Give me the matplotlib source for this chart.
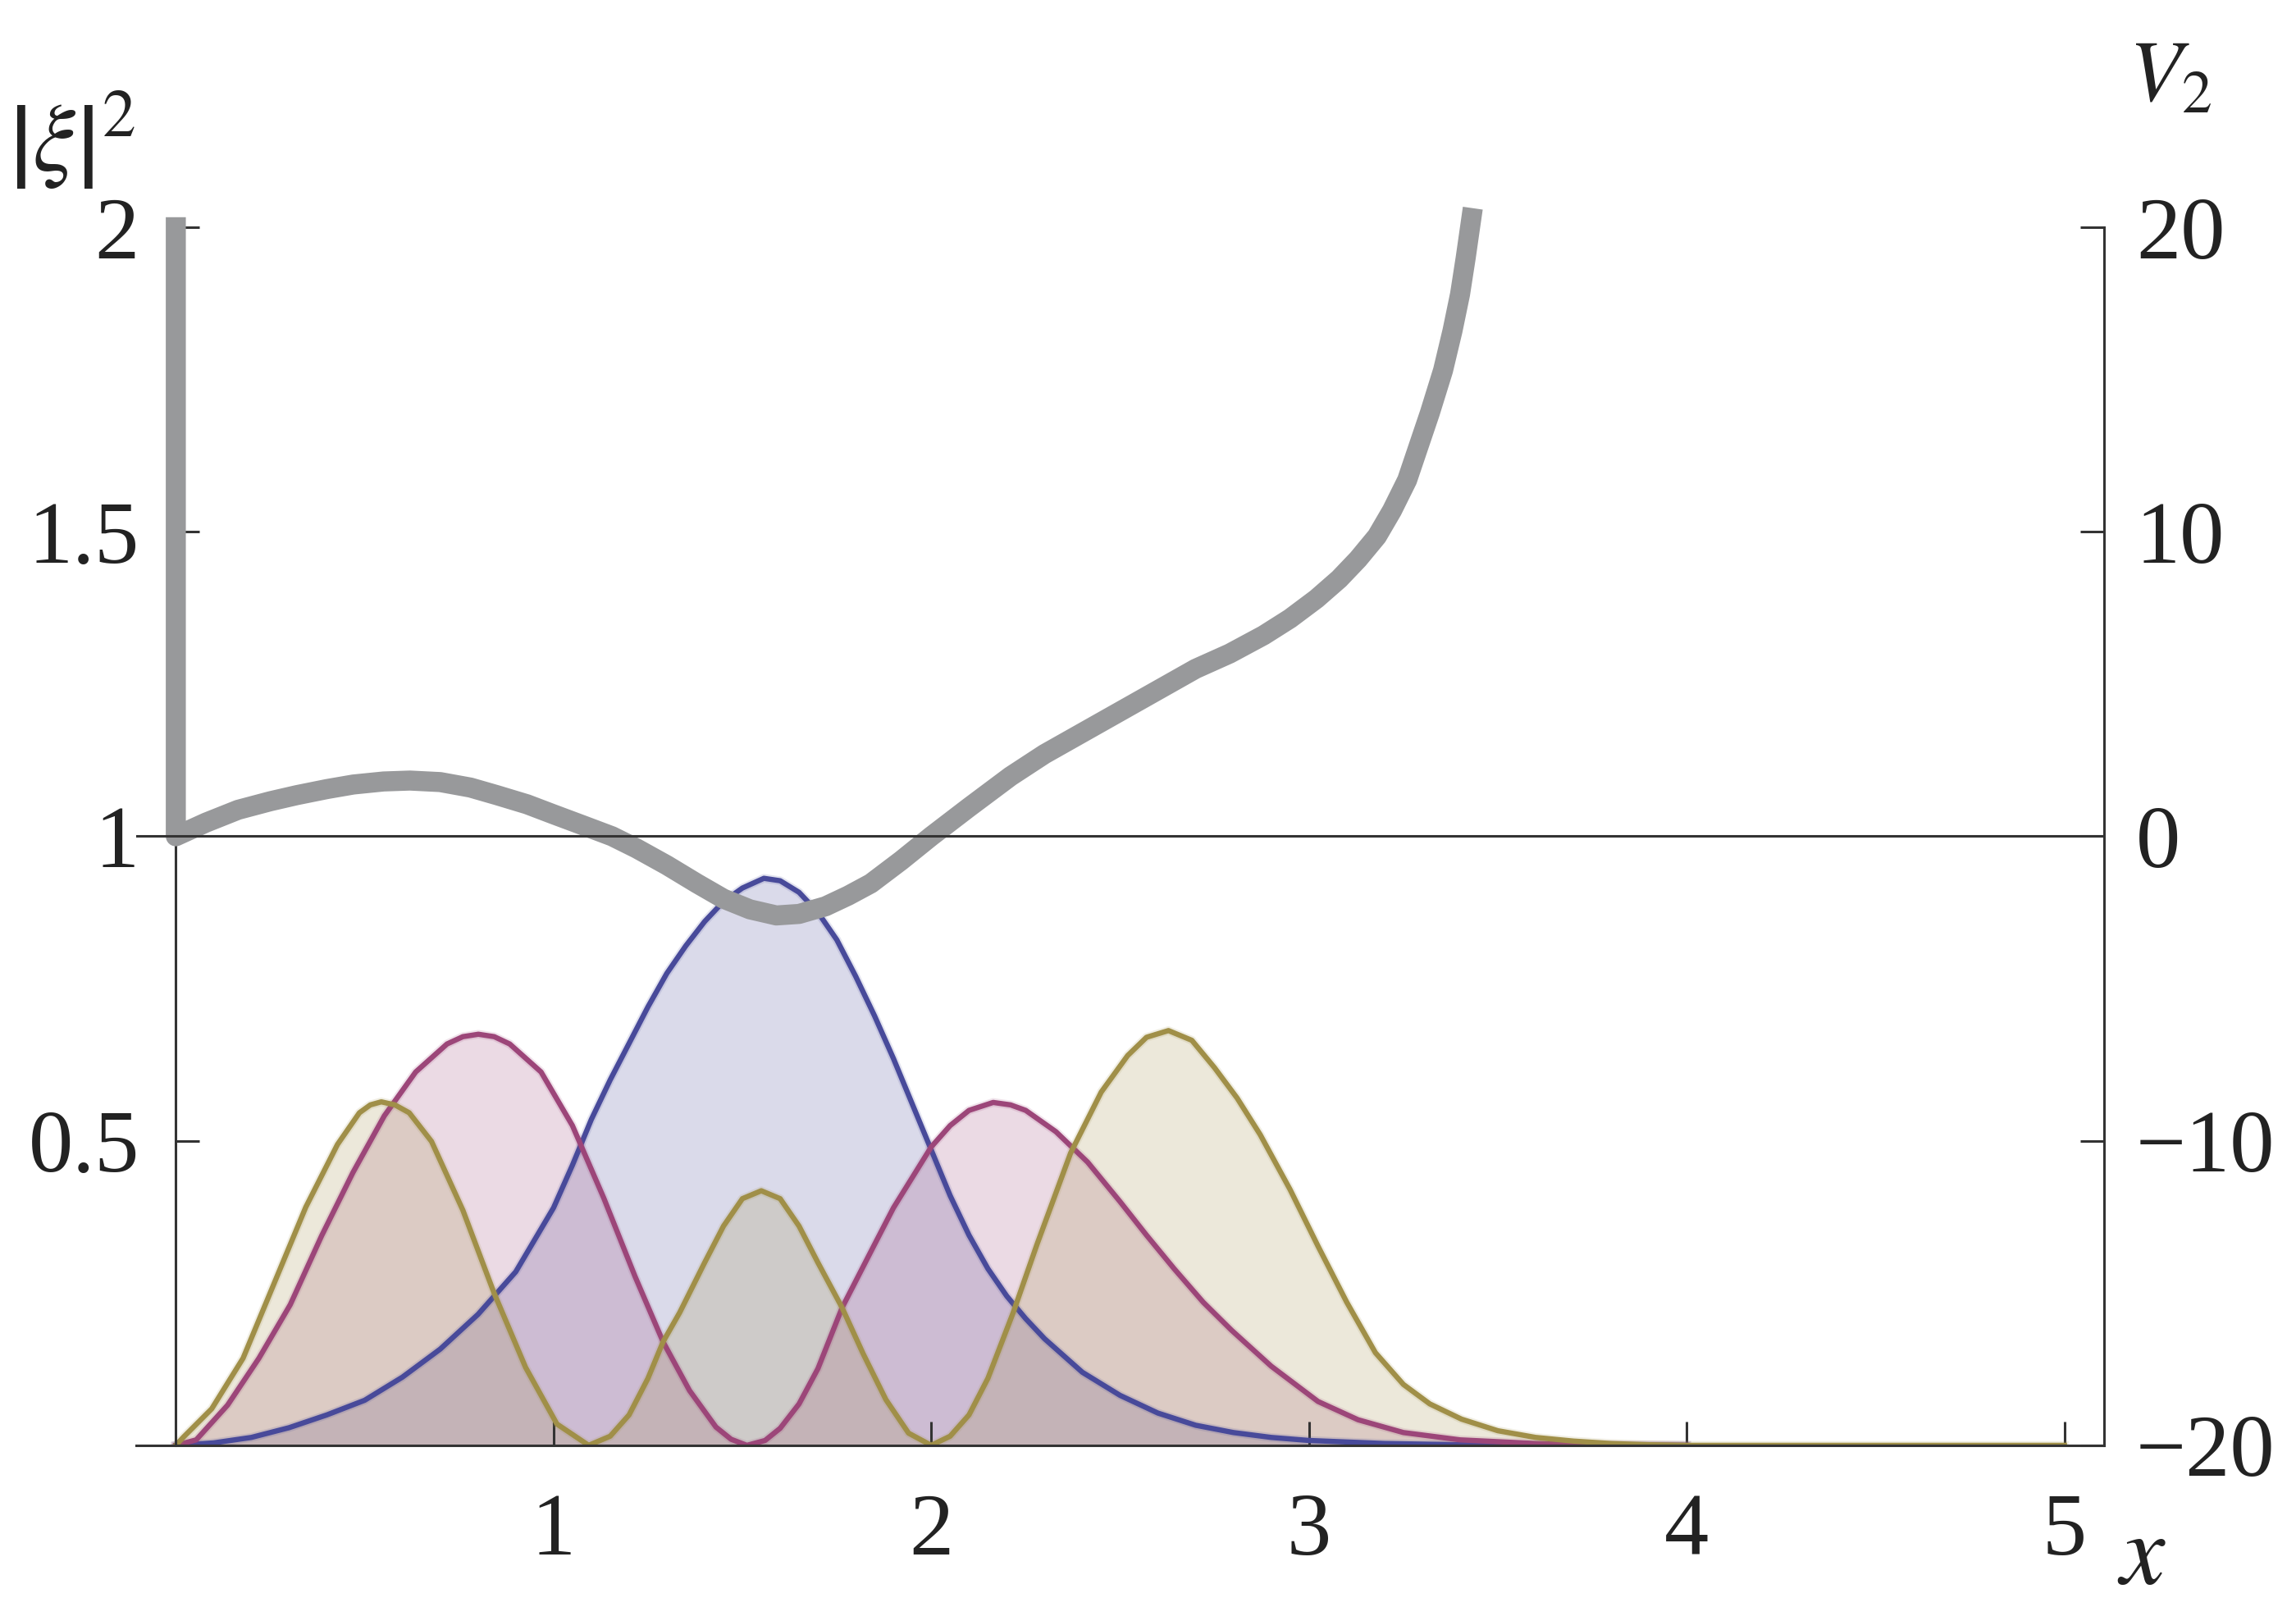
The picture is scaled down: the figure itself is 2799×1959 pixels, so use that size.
import numpy as np
import matplotlib
matplotlib.use("Agg")
import matplotlib.pyplot as plt
import matplotlib.patheffects as pe

plt.rcParams['font.family'] = ['Liberation Serif', 'DejaVu Serif']
plt.rcParams['mathtext.fontset'] = 'stix'

# |xi|^2 for the three states
x_blue = [0, 0.1, 0.2, 0.3, 0.4, 0.5, 0.6, 0.7, 0.8, 0.9, 1.0, 1.05, 1.1,
          1.15, 1.2, 1.25, 1.3, 1.35, 1.4, 1.45, 1.5, 1.557, 1.6, 1.65, 1.7,
          1.75, 1.8, 1.85, 1.9, 1.95, 2.0, 2.05, 2.1, 2.15, 2.2, 2.25, 2.3,
          2.4, 2.5, 2.6, 2.7, 2.8, 2.9, 3.0, 3.2, 3.4, 3.7, 4.0]
y_blue = [0, 0.004, 0.013, 0.029, 0.05, 0.074, 0.112, 0.158, 0.215, 0.285,
          0.39, 0.46, 0.535, 0.6, 0.66, 0.72, 0.775, 0.82, 0.86, 0.893,
          0.915, 0.931, 0.927, 0.908, 0.875, 0.83, 0.77, 0.705, 0.635, 0.56,
          0.485, 0.41, 0.345, 0.29, 0.245, 0.208, 0.175, 0.12, 0.082, 0.053,
          0.033, 0.021, 0.013, 0.008, 0.003, 0.001, 0.0, 0.0]

x_mag = [0, 0.054, 0.137, 0.22, 0.303, 0.386, 0.469, 0.552, 0.635, 0.718,
         0.76, 0.801, 0.843, 0.884, 0.967, 1.05, 1.133, 1.216, 1.29, 1.36,
         1.43, 1.47, 1.512, 1.56, 1.6, 1.65, 1.7, 1.764, 1.85, 1.9, 1.95,
         2.0, 2.05, 2.1, 2.164, 2.21, 2.25, 2.33, 2.414, 2.5, 2.57, 2.643,
         2.72, 2.795, 2.9, 3.024, 3.13, 3.25, 3.4, 3.6, 3.8, 4.0]
y_mag = [0, 0.009, 0.066, 0.143, 0.231, 0.344, 0.448, 0.541, 0.613, 0.659,
         0.671, 0.675, 0.671, 0.659, 0.613, 0.525, 0.406, 0.277, 0.17, 0.09,
         0.03, 0.01, 0, 0.008, 0.028, 0.068, 0.126, 0.226, 0.33, 0.39, 0.44,
         0.49, 0.525, 0.55, 0.563, 0.559, 0.55, 0.515, 0.465, 0.40, 0.345,
         0.29, 0.235, 0.189, 0.13, 0.072, 0.042, 0.021, 0.009, 0.003, 0.001,
         0.0]

x_olive = [0, 0.021, 0.095, 0.178, 0.261, 0.344, 0.428, 0.486, 0.515, 0.544,
           0.58, 0.618, 0.677, 0.76, 0.842, 0.926, 1.009, 1.093, 1.15, 1.2,
           1.25, 1.29, 1.334, 1.4, 1.45, 1.5, 1.55, 1.6, 1.65, 1.7, 1.764,
           1.82, 1.88, 1.94, 2.0, 2.05, 2.1, 2.15, 2.217, 2.28, 2.369, 2.45,
           2.52, 2.57, 2.628, 2.69, 2.75, 2.81, 2.871, 2.95, 3.024, 3.1,
           3.176, 3.25, 3.32, 3.404, 3.5, 3.6, 3.7, 3.8, 3.9, 4.0, 5.0]
y_olive = [0, 0.014, 0.06, 0.143, 0.267, 0.391, 0.494, 0.546, 0.559, 0.564,
           0.559, 0.546, 0.499, 0.386, 0.251, 0.128, 0.035, 0, 0.015, 0.05,
           0.11, 0.17, 0.218, 0.3, 0.36, 0.405, 0.418, 0.405, 0.36, 0.3,
           0.226, 0.15, 0.075, 0.02, 0, 0.015, 0.05, 0.11, 0.218, 0.33, 0.48,
           0.58, 0.64, 0.67, 0.681, 0.665, 0.62, 0.57, 0.51, 0.42, 0.327,
           0.235, 0.152, 0.1, 0.068, 0.043, 0.024, 0.013, 0.007, 0.003,
           0.001, 0.0, 0.0]

# potential V2 (right axis), wall at x = 0
x_pot = [0, 0, 0.08, 0.165, 0.25, 0.32, 0.4, 0.47, 0.55, 0.62, 0.7, 0.78,
         0.85, 0.93, 1.0, 1.08, 1.155, 1.22, 1.3, 1.38, 1.45, 1.52, 1.59,
         1.65, 1.72, 1.78, 1.84, 1.92, 2.0, 2.1, 2.21, 2.3, 2.4, 2.5, 2.6,
         2.7, 2.79, 2.88, 2.95, 3.02, 3.08, 3.13, 3.18, 3.22, 3.26, 3.29,
         3.32, 3.355, 3.38, 3.40, 3.415, 3.43]
v_pot = [20, 0, 0.45, 0.87, 1.15, 1.35, 1.55, 1.7, 1.8, 1.83, 1.78, 1.6,
         1.35, 1.05, 0.72, 0.35, 0, -0.4, -0.95, -1.55, -2.05, -2.4, -2.6,
         -2.55, -2.3, -1.95, -1.55, -0.8, 0, 0.95, 1.97, 2.7, 3.4, 4.1, 4.8,
         5.5, 6.0, 6.6, 7.15, 7.8, 8.45, 9.1, 9.85, 10.7, 11.7, 12.8,
         13.9, 15.3, 16.6, 17.8, 19.0, 20.3]

x_ticks = [1, 2, 3, 4, 5]
psi_ticks = [0.5, 1, 1.5, 2]
psi_labels = ['0.5', '1', '1.5', '2']
v_ticks = [-20, -10, 0, 10, 20]

colors = ['#484a9a', '#9c4679', '#a08f48']
axis_col = '#333333'
txt_col = '#222222'

fig = plt.figure(figsize=(13.995, 9.795), dpi=200)
ax = fig.add_axes([0.0593, 0.1006, 0.8571, 0.758])
ax.set_xlim(-0.105, 5.105)
ax.set_ylim(0, 2)

curves = [(x_blue, y_blue), (x_mag, y_mag), (x_olive, y_olive)]
for (xs, ys), c in zip(curves, colors):
    xs = np.array(xs)
    ys = np.array(ys)
    m = xs <= 4.0
    ax.fill_between(xs[m], 0, ys[m], color=c, alpha=0.2, lw=0)
for (xs, ys), c in zip(curves, colors):
    ax.plot(xs, ys, color=c, lw=2.3, solid_joinstyle='round',
            path_effects=[pe.Stroke(linewidth=3.8, foreground=c, alpha=0.15),
                          pe.Normal()])

for s in ['top', 'right']:
    ax.spines[s].set_visible(False)
ax.spines['left'].set_position(('data', 0))
ax.spines['left'].set_bounds(0, 2)
for s in ['left', 'bottom']:
    ax.spines[s].set_color(axis_col)
    ax.spines[s].set_linewidth(1.1)
ax.set_xticks(x_ticks)
ax.set_yticks(psi_ticks)
ax.set_yticklabels(psi_labels)
ax.tick_params(axis='x', direction='in', length=10.4, width=1.1,
               color=axis_col, labelsize=39, pad=21, labelcolor=txt_col)
ax.tick_params(axis='y', direction='in', length=10.4, width=1.1,
               color=axis_col, labelsize=39, pad=16, labelcolor=txt_col)

ax2 = ax.twinx()
ax2.set_ylim(-20, 20)
ax2.plot(x_pot, v_pot, color='#98999b', lw=8.8, solid_joinstyle='round',
         clip_on=False, zorder=2)
ax2.axhline(0, color=axis_col, lw=1.1, zorder=3)
for s in ['top', 'left', 'bottom']:
    ax2.spines[s].set_visible(False)
ax2.spines['right'].set_bounds(-20, 20)
ax2.spines['right'].set_color(axis_col)
ax2.spines['right'].set_linewidth(1.1)
ax2.set_yticks(v_ticks)
ax2.tick_params(axis='y', direction='in', length=10.4, width=1.1,
                color=axis_col, labelsize=39, pad=14, labelcolor=txt_col)

fig.text(10 / 2799, 1 - 172 / 1959, r'$\left|\xi\right|^2$', fontsize=42,
         ha='left', va='center', color=txt_col)
fig.text(2595 / 2799, 1 - 50 / 1959, r'$V_2$', fontsize=38,
         ha='left', va='top', color=txt_col)
fig.text(2611 / 2799, 1 - 1900 / 1959, r'$x$', fontsize=44,
         ha='center', va='center', color=txt_col)

fig.savefig('out.png', dpi=200)
